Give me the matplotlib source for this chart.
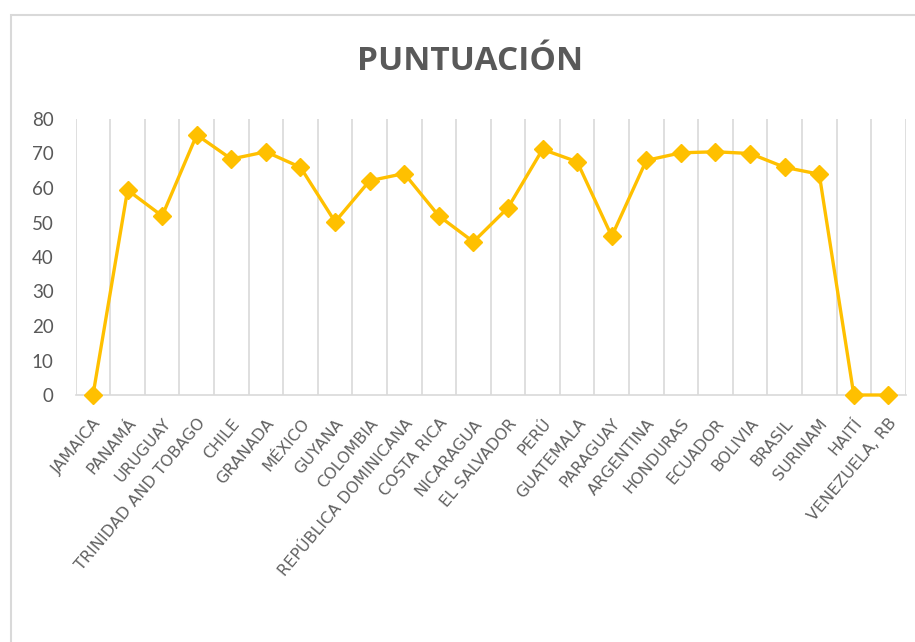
import matplotlib.pyplot as plt
from matplotlib.patches import Rectangle

# datos
paises = ["JAMAICA", "PANAMÁ", "URUGUAY", "TRINIDAD AND TOBAGO", "CHILE",
          "GRANADA", "MÉXICO", "GUYANA", "COLOMBIA", "REPÚBLICA DOMINICANA",
          "COSTA RICA", "NICARAGUA", "EL SALVADOR", "PERÚ", "GUATEMALA",
          "PARAGUAY", "ARGENTINA", "HONDURAS", "ECUADOR", "BOLIVIA",
          "BRASIL", "SURINAM", "HAITÍ", "VENEZUELA, RB"]
puntuacion = [0, 59.4, 51.9, 75.4, 68.4, 70.5, 66.0, 50.2, 62.1, 64.2,
              51.9, 44.4, 54.3, 71.2, 67.6, 46.0, 68.0, 70.2, 70.5, 70.0,
              66.0, 64.0, 0, 0]
yticks = [0, 10, 20, 30, 40, 50, 60, 70, 80]

gris = "#595959"
amarillo = "#FFC000"

fig = plt.figure(figsize=(9.15, 6.42), dpi=100)
ax = fig.add_axes([75.7 / 915, 1 - 395 / 642, 830 / 915, 276 / 642])

x = list(range(len(paises)))
ax.plot(x, puntuacion, color=amarillo, lw=2.4, marker="D", markersize=9,
        clip_on=False, zorder=3)

ax.set_xlim(-0.5, len(paises) - 0.5)
ax.set_ylim(0, 80)
ax.set_yticks(yticks)
ax.set_yticklabels([str(v) for v in yticks], family="Lato", fontsize=13.5, color=gris)
ax.set_xticks(x)
ax.set_xticklabels(paises, rotation=50, ha="right", va="top", rotation_mode="anchor",
                   family="DejaVu Sans", fontsize=11.5, color="#616161")
ax.set_xticks([i - 0.5 for i in range(len(paises) + 1)], minor=True)
ax.grid(which="minor", axis="x", color="#d9d9d9", lw=1.2)
ax.tick_params(which="both", length=0)
ax.tick_params(axis="y", pad=16)
ax.tick_params(axis="x", pad=15)
for s in ["top", "right", "left"]:
    ax.spines[s].set_visible(False)
ax.spines["bottom"].set_color("#d9d9d9")
ax.spines["bottom"].set_linewidth(1.2)

# titulo
fig.text(470 / 915, 1 - 62 / 642, "PUNTUACIÓN", ha="center", va="center",
         family="Open Sans", fontweight="bold", fontsize=24, color=gris)

# borde del grafico (recortado)
fig.add_artist(Rectangle((10.5 / 915, -0.1), 1.2, 1.1 - 14.5 / 642,
                         transform=fig.transFigure, fill=False,
                         edgecolor="#d9d9d9", lw=1.5))

fig.savefig("out.png", dpi=100)
